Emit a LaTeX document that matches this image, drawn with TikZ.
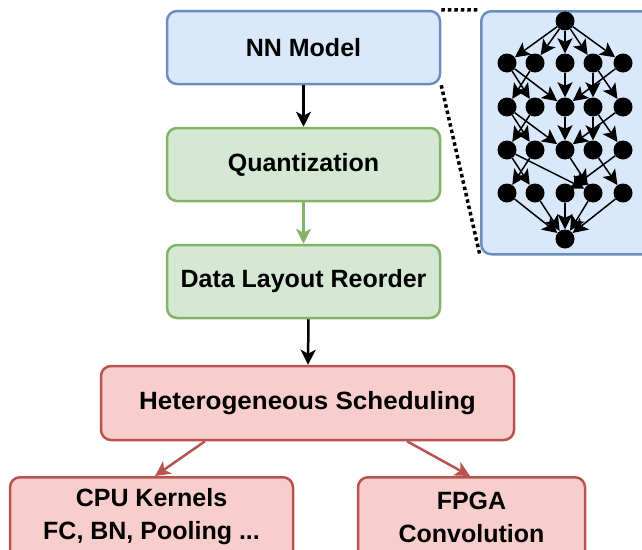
\documentclass[tikz,border=0pt]{standalone}
\usepackage{fontspec}
\setmainfont{Liberation Sans}
\usetikzlibrary{arrows.meta}
\definecolor{blueFill}{HTML}{DAE8FC}
\definecolor{blueLine}{HTML}{6C8EBF}
\definecolor{greenFill}{HTML}{D5E8D4}
\definecolor{greenLine}{HTML}{82B366}
\definecolor{redFill}{HTML}{F8CECC}
\definecolor{redLine}{HTML}{B85450}
\tikzset{
  box/.style={draw, rounded corners=10pt, line width=2.5pt, inner sep=0pt,
    font=\bfseries\fontsize{25}{33}\selectfont, align=center},
  bluebox/.style={box, fill=blueFill, draw=blueLine},
  greenbox/.style={box, fill=greenFill, draw=greenLine},
  redbox/.style={box, fill=redFill, draw=redLine},
  label/.style={font=\bfseries\fontsize{25}{33}\selectfont, align=center, inner sep=0pt},
  flow/.style={line width=2.5pt, -{Stealth[length=15pt,width=15pt,inset=4pt]}},
  zoomline/.style={line width=3.5pt, dash pattern=on 3.5pt off 3pt},
  dot/.style={circle, fill=black, inner sep=0pt, minimum size=19pt},
  edge/.style={line width=1.5pt, -{Stealth[length=15pt,width=15pt,inset=3.5pt]}}
}
\begin{document}
\begin{tikzpicture}[x=1pt, y=-1pt]
\useasboundingbox (0,0) rectangle (642,549);
\clip (0,0) rectangle (642,549);

% pipeline
\node[bluebox, minimum width=273pt, minimum height=73pt] (nn) at (303.5,47.5) {NN Model};
\node[greenbox, minimum width=273pt, minimum height=73pt] (quant) at (303.5,164.5) {Quantization};
\node[greenbox, minimum width=273pt, minimum height=73pt] (layout) at (303.5,281.5) {Data Layout Reorder};
\node[redbox, minimum width=413pt, minimum height=74pt] (het) at (307.5,403) {\scalebox{1.04}[1]{Heterogeneous Scheduling}};
\node[redbox, minimum width=283pt, minimum height=120pt, anchor=north] (cpu) at (151.5,476) {};
\node[redbox, minimum width=227pt, minimum height=120pt, anchor=north] (fpga) at (471.5,476) {};
\node[label] (cputxt) at (151.5,517) {CPU Kernels\\FC, BN, Pooling ...};
\node[label] (fpgatxt) at (471.5,517) {FPGA\\Convolution};

\draw[flow] (nn.south) -- (quant.north);
\draw[flow, draw=greenLine, fill=greenLine] (quant.south) -- (layout.north);
\draw[flow] ([xshift=5pt]layout.south) -- ([xshift=0.5pt]het.north);
\draw[flow, draw=redLine, fill=redLine] ([xshift=-102.5pt]het.south) -- ([xshift=3.5pt]cpu.north);
\draw[flow, draw=redLine, fill=redLine] ([xshift=99.5pt]het.south) -- ([xshift=-1.5pt]fpga.north);

% network graph panel
\node[bluebox, minimum width=200pt, minimum height=243pt, anchor=north west] (panel) at (480,10) {};
\draw[zoomline] (nn.north east) -- (panel.north west);
\draw[zoomline] (nn.south east) -- (panel.south west);

\node[dot] (g0) at (565,21) {};
\foreach \r/\y in {1/63,2/107,3/150,4/193}{
  \foreach \c/\x in {a/507,b/535,c/565,d/593,e/623}{
    \node[dot] (g\r\c) at (\x,\y) {};
  }
}
\node[dot] (g5) at (565,239) {};

\foreach \c in {a,b,c,d,e}{
  \draw[edge] (g0) -- (g1\c);
  \draw[edge] (g4\c) -- (g5);
}
\foreach \r/\s in {1/2,2/3}{
  \draw[edge] (g\r a) -- (g\s b);
  \draw[edge] (g\r b) -- (g\s a);
  \draw[edge] (g\r a) -- (g\s c);
  \draw[edge] (g\r c) -- (g\s c);
  \draw[edge] (g\r d) -- (g\s d);
  \draw[edge] (g\r d) -- (g\s e);
  \draw[edge] (g\r e) -- (g\s c);
}
\draw[edge] (g3a) -- (g4b);
\draw[edge] (g3b) -- (g4a);
\draw[edge] (g3a) -- (g4d);
\draw[edge] (g3e) -- (g4c);
\draw[edge] (g3d) -- (g4e);
\draw[edge] (g3c) -- (g4d);
\end{tikzpicture}
\end{document}
